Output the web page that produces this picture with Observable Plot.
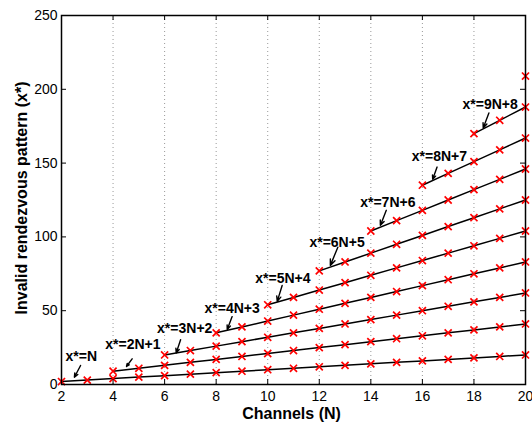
<!DOCTYPE html>
<html>
<head>
<meta charset="utf-8">
<script src="https://cdn.jsdelivr.net/npm/d3@7"></script>
<script src="https://cdn.jsdelivr.net/npm/@observablehq/plot@0.6"></script>
<style>
  html, body { margin: 0; padding: 0; background: #fff; }
  #chart { width: 532px; height: 422px; }
</style>
</head>
<body>
<div id="chart"></div>
<script>
// ---- data ----
const channels = [2,3,4,5,6,7,8,9,10,11,12,13,14,15,16,17,18,19,20];
const seriesStart = [2,4,6,8,10,12,14,16,18,20];
const s1 = [2,3,4,5,6,7,8,9,10,11,12,13,14,15,16,17,18,19,20];
const s2 = [9,11,13,15,17,19,21,23,25,27,29,31,33,35,37,39,41];
const s3 = [20,23,26,29,32,35,38,41,44,47,50,53,56,59,62];
const s4 = [35,39,43,47,51,55,59,63,67,71,75,79,83];
const s5 = [54,59,64,69,74,79,84,89,94,99,104];
const s6 = [77,83,89,95,101,107,113,119,125];
const s7 = [104,111,118,125,132,139,146];
const s8 = [135,143,151,159,167];
const s9 = [170,179,188];
const s10 = [209];
const series = [s1,s2,s3,s4,s5,s6,s7,s8,s9,s10];

const xTicks = [2,4,6,8,10,12,14,16,18,20];
const yTicks = [0,50,100,150,200,250];

// annotations: label text, label position, arrow tail and tip (data units)
const labels   = ["x*=N","x*=2N+1","x*=3N+2","x*=4N+3","x*=5N+4","x*=6N+5","x*=7N+6","x*=8N+7","x*=9N+8"];
const labelN   = [2.77, 4.77, 6.78, 8.62, 10.59, 12.69, 14.66, 16.66, 18.63];
const labelY   = [19.0, 27.0, 37.6, 51.5, 71.7, 96.5, 123.4, 154.6, 189.4];
const tailN    = [2.74, 4.74, 6.62, 8.62, 10.56, 12.72, 14.60, 16.57, 18.58];
const tailY    = [12.9, 17.4, 30.3, 46.0, 67.1, 93.0, 118.0, 147.3, 184.0];
const tipN     = [2.50, 4.52, 6.45, 8.43, 10.37, 12.43, 14.37, 16.40, 18.36];
const tipY     = [4.9, 12.2, 21.4, 37.3, 56.3, 80.7, 107.8, 139.0, 173.8];

// ---- build tables ----
const points = series.flatMap((vals, i) => {
  const startIdx = channels.indexOf(seriesStart[i]);
  return vals.map((v, j) => ({k: i + 1, N: channels[startIdx + j], y: v}));
});
const notes = labels.map((t, i) => ({
  t, lx: labelN[i], ly: labelY[i], x1: tailN[i], y1: tailY[i], x2: tipN[i], y2: tipY[i]
}));

const W = 532, H = 422;
const mL = 61, mR = 7, mT = 15, mB = 38;
const pw = W - mL - mR, ph = H - mT - mB;
const tick = 5;
const font = "'Liberation Sans', Arial, Helvetica, sans-serif";

const chart = Plot.plot({
  width: W,
  height: H,
  marginLeft: mL,
  marginRight: mR,
  marginTop: mT,
  marginBottom: mB,
  style: {fontFamily: font, fontSize: "14px", color: "black", background: "white"},
  x: {domain: [2, 20], axis: null},
  y: {domain: [0, 250], axis: null},
  marks: [
    // dotted vertical grid
    Plot.ruleX(xTicks.slice(1, -1), {stroke: "#999", strokeDasharray: "1,3", strokeWidth: 1}),
    // lines
    Plot.line(points, {x: "N", y: "y", z: "k", stroke: "black", strokeWidth: 1.5}),
    // markers
    Plot.dot(points, {x: "N", y: "y", symbol: "times", r: 3.3, stroke: "#ff0000", strokeWidth: 1.7}),
    // box
    Plot.frame({stroke: "black", strokeWidth: 1.5}),
    // inward ticks
    Plot.tickX(xTicks, {x: d => d, insetTop: ph - tick, stroke: "black", strokeWidth: 1}),
    Plot.tickX(xTicks, {x: d => d, insetBottom: ph - tick, stroke: "black", strokeWidth: 1}),
    Plot.tickY(yTicks, {y: d => d, insetRight: pw - tick, stroke: "black", strokeWidth: 1}),
    Plot.tickY(yTicks, {y: d => d, insetLeft: pw - tick, stroke: "black", strokeWidth: 1}),
    // tick labels
    Plot.axisX({ticks: xTicks, tickSize: 0, tickPadding: 7, fontSize: 14, label: null}),
    Plot.axisY({ticks: yTicks, tickSize: 0, tickPadding: 4, fontSize: 14, label: null}),
    // annotation arrows and labels
    Plot.arrow(notes, {x1: "x1", y1: "y1", x2: "x2", y2: "y2", stroke: "black", strokeWidth: 1.4, headLength: 7, headAngle: 45}),
    Plot.text(notes, {x: "lx", y: "ly", text: "t", fontWeight: "bold", fontSize: 14, fill: "black"}),
    // axis titles
    Plot.text(["Channels (N)"], {frameAnchor: "bottom", textAnchor: "middle", lineAnchor: "middle", dy: 29, dx: -2, text: d => d, fontWeight: "bold", fontSize: 16, fill: "black"}),
    Plot.text(["Invalid rendezvous pattern (x*)"], {frameAnchor: "left", textAnchor: "middle", lineAnchor: "middle", dx: -40, dy: -2, rotate: -90, text: d => d, fontWeight: "bold", fontSize: 16, fill: "black"})
  ]
});
document.getElementById("chart").appendChild(chart);
</script>
</body>
</html>
